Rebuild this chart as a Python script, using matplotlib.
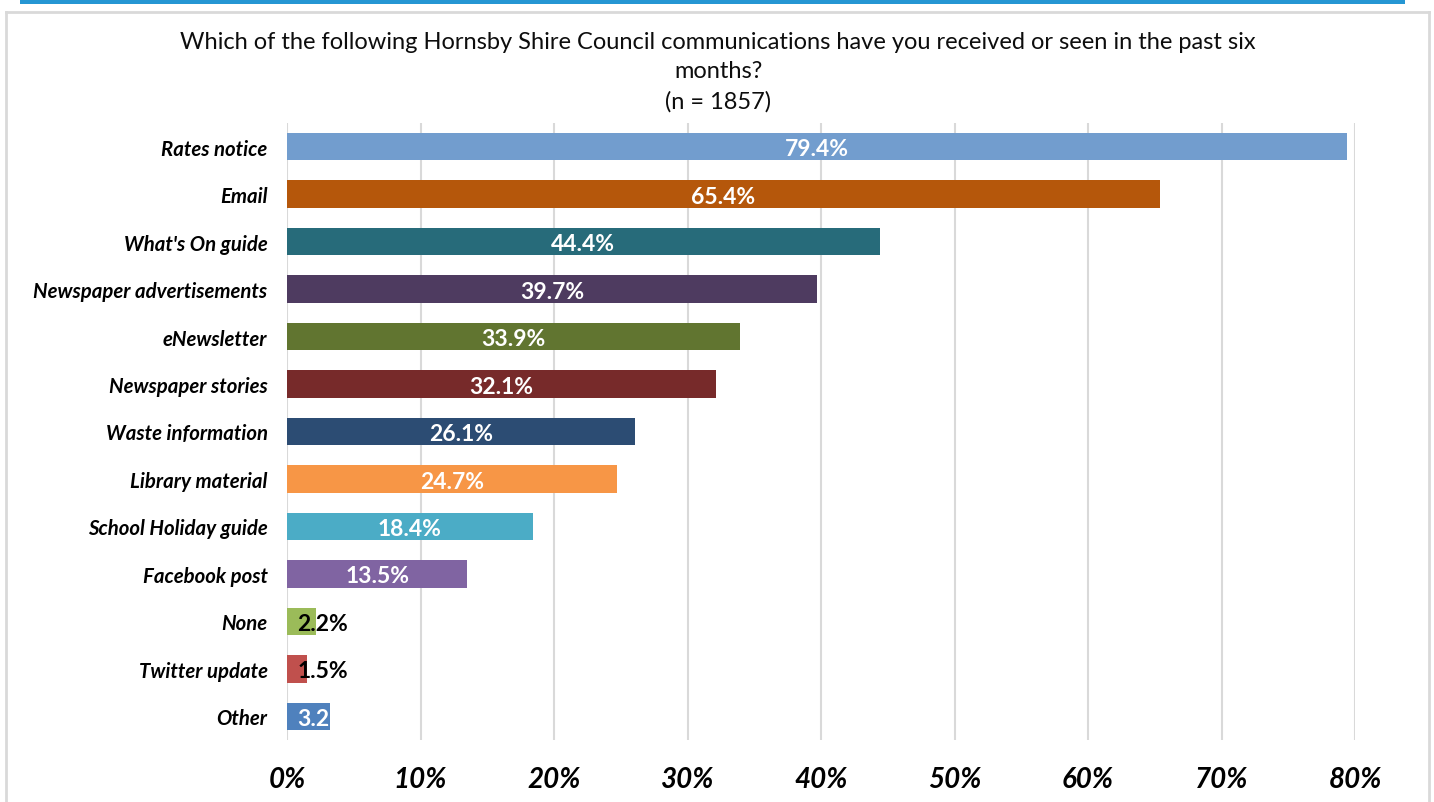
import matplotlib
matplotlib.use("Agg")
import matplotlib.pyplot as plt
from matplotlib.patches import Rectangle
from matplotlib.lines import Line2D

plt.rcParams['font.family'] = ['Lato', 'DejaVu Sans']

categories = ["Rates notice", "Email", "What's On guide", "Newspaper advertisements",
              "eNewsletter", "Newspaper stories", "Waste information", "Library material",
              "School Holiday guide", "Facebook post", "None", "Twitter update", "Other"]
values = [79.4, 65.4, 44.4, 39.7, 33.9, 32.1, 26.1, 24.7, 18.4, 13.5, 2.2, 1.5, 3.2]
value_labels = ["79.4%", "65.4%", "44.4%", "39.7%", "33.9%", "32.1%", "26.1%", "24.7%",
                "18.4%", "13.5%", "2.2%", "1.5%", "3.2%"]
bar_colors = ["#729DCE", "#B5570B", "#276B7A", "#4E3B60", "#617530", "#772A2A", "#2C4C73",
              "#F79646", "#4BACC6", "#8064A2", "#9BBB59", "#C0504D", "#4F81BD"]
label_colors = ["white"] * 10 + ["black", "black", "white"]
label_inside_base = [False] * 10 + [True, True, True]
x_ticks = [0, 10, 20, 30, 40, 50, 60, 70, 80]
x_ticklabels = ["0%", "10%", "20%", "30%", "40%", "50%", "60%", "70%", "80%"]
title = ("Which of the following Hornsby Shire Council communications have you received or seen in the past six\n"
         "months?\n(n = 1857)")

W, H = 1434, 803
fig = plt.figure(figsize=(W / 100, H / 100), dpi=100)

# outer frame and accent strip
fig.patches.append(Rectangle((20 / W, 1 - 5 / H), 1385 / W, 5 / H, transform=fig.transFigure,
                             facecolor="#2596D3", edgecolor="none"))
for xs, ys in [([6, 6], [13, H]), ([1429, 1429], [13, H]), ([6, 1429], [13, 13])]:
    fig.lines.append(Line2D([x / W for x in xs], [1 - y / H for y in ys], transform=fig.transFigure,
                            color="#D9D9D9", lw=2))

left, right, top, bottom = 287, 1355, 124, 741
ax = fig.add_axes([left / W, 1 - bottom / H, (right - left) / W, (bottom - top) / H])

y = list(range(len(categories)))
ax.barh(y, values, height=0.58, color=bar_colors, zorder=2)
ax.set_xlim(0, 80)
ax.set_ylim(len(categories) - 0.5, -0.5)

ax.set_xticks(x_ticks)
ax.set_xticklabels(x_ticklabels, fontsize=20, fontweight="bold", fontstyle="italic")
ax.tick_params(axis="x", length=0, pad=19)
ax.set_yticks(y)
ax.set_yticklabels(categories, fontsize=14.7, fontweight="bold", fontstyle="italic")
ax.tick_params(axis="y", length=0, pad=14)
ax.grid(axis="x", color="#D9D9D9", lw=1.5, zorder=0)
for s in ax.spines.values():
    s.set_visible(False)

# value labels: centred in long bars, anchored at the base of the short ones
for yi, v, lab, c, base in zip(y, values, value_labels, label_colors, label_inside_base):
    if base:
        ax.annotate(lab, (0, yi), xytext=(7.5, -1.5), textcoords="offset points",
                    ha="left", va="center", color=c, fontsize=16.5, fontweight="bold", zorder=3)
    else:
        ax.annotate(lab, (v / 2, yi), xytext=(0, -1.5), textcoords="offset points",
                    ha="center", va="center", color=c, fontsize=16.5, fontweight="bold", zorder=3)

fig.text(718 / W, 1 - 72 / H, title, ha="center", va="center", fontsize=17,
         linespacing=1.5, color="#0d0d0d")

fig.savefig("out.png", dpi=100)
